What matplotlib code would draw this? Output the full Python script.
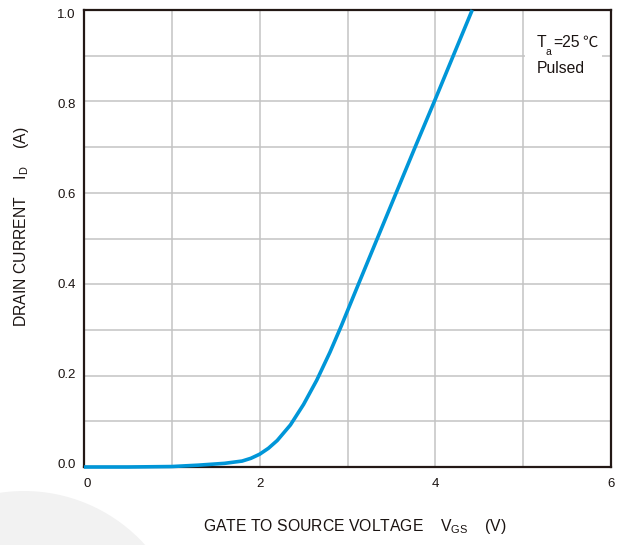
import matplotlib
matplotlib.use("Agg")
import matplotlib.pyplot as plt
from matplotlib.patches import Ellipse, Rectangle
from matplotlib.transforms import ScaledTranslation

# ---- data ----
vgs = [0.0, 0.5, 1.0, 1.3, 1.6, 1.8, 1.9, 2.0, 2.1, 2.2, 2.35, 2.5, 2.65, 2.8,
       2.93, 3.12, 3.35, 3.55, 3.77, 4.0, 4.2, 4.42]
id_a = [0.0, 0.0, 0.001, 0.004, 0.008, 0.013, 0.019, 0.028, 0.041, 0.058, 0.092,
        0.137, 0.19, 0.251, 0.309, 0.398, 0.505, 0.598, 0.700, 0.805, 0.898, 1.0]
x_ticks = [0, 2, 4, 6]
x_ticklabels = ["0", "2", "4", "6"]
y_ticks = [0.0, 0.2, 0.4, 0.6, 0.8, 1.0]
y_ticklabels = ["0.0", "0.2", "0.4", "0.6", "0.8", "1.0"]
x_grid = [1, 2, 3, 4, 5]
y_grid = [0.1, 0.2, 0.3, 0.4, 0.5, 0.6, 0.7, 0.8, 0.9]

plt.rcParams['font.family'] = ['Liberation Sans', 'Noto Sans CJK SC', 'DejaVu Sans']
plt.rcParams['mathtext.fontset'] = 'custom'
plt.rcParams['mathtext.rm'] = 'Liberation Sans'
plt.rcParams['mathtext.it'] = 'Liberation Sans'

TXT = '#1a1311'
W, H = 621, 545
fig = plt.figure(figsize=(W / 100, H / 100), dpi=100)
fig.patch.set_facecolor('white')


def fx(px):
    return px / W


def fy(py):
    return 1 - py / H


# faint decorative arc in the lower-left corner
r = 163
fig.patches.append(Ellipse((fx(24), fy(654)), 2 * r / W, 2 * r / H,
                           transform=fig.transFigure, facecolor='#f2f2f2',
                           edgecolor='none', zorder=0))

ax = fig.add_axes([fx(84), fy(467), (611 - 84) / W, (467 - 10) / H])
ax.set_xlim(0, 6)
ax.set_ylim(0, 1.0)

for gx in x_grid:
    ax.axvline(gx, color='#c3c3c3', lw=1.1, zorder=1)
for gy in y_grid:
    ax.axhline(gy, color='#c3c3c3', lw=1.1, zorder=1)

ax.plot(vgs, id_a, color='#0096d8', lw=2.6, zorder=4, clip_on=False,
        solid_capstyle='butt', solid_joinstyle='round')

ax.set_xticks(x_ticks)
ax.set_xticklabels(x_ticklabels)
ax.set_yticks(y_ticks)
ax.set_yticklabels(y_ticklabels)
ax.tick_params(length=0, labelsize=9.5, colors=TXT)
ax.tick_params(axis='x', pad=8)
ax.tick_params(axis='y', pad=6)

# small label offsets as in the reference
ylabs = ax.get_yticklabels()
n = len(ylabs)
for i, lab in enumerate(ylabs):
    dy_px = 4 - 8 * i / (n - 1)
    lab.set_transform(lab.get_transform() +
                      ScaledTranslation(0, dy_px / 100, fig.dpi_scale_trans))
xl0 = ax.get_xticklabels()[0]
xl0.set_transform(xl0.get_transform() +
                  ScaledTranslation(3 / 100, 0, fig.dpi_scale_trans))

for s in ax.spines.values():
    s.set_linewidth(1.6)
    s.set_color('#231815')
    s.set_zorder(3)

# annotation box
ax.add_patch(Rectangle((5.02, 0.845), 0.88, 0.115, facecolor='white',
                       edgecolor='none', zorder=2))
fig.text(fx(537), fy(47), 'T', fontsize=11.3, color=TXT, va='baseline', ha='left')
fig.text(fx(546), fy(55), 'a', fontsize=7.5, color=TXT, va='baseline', ha='left')
fig.text(fx(553.5), fy(47), '=25', fontsize=11.3, color=TXT, va='baseline', ha='left')
fig.text(fx(582), fy(47), '℃', fontsize=11, color=TXT, va='baseline', ha='left',
         family=['Noto Sans CJK SC', 'DejaVu Sans'], fontweight='light')
fig.text(fx(537), fy(73), 'Pulsed', fontsize=11.3, color=TXT,
         va='baseline', ha='left')

fig.text(fx(355), fy(527),
         r'GATE TO SOURCE VOLTAGE    V$_{\mathregular{GS}}$    (V)',
         fontsize=11.3, color=TXT, ha='center', va='center')
fig.text(fx(22), fy(227),
         r'DRAIN CURRENT    I$_{\mathregular{D}}$    (A)',
         fontsize=11.3, color=TXT, ha='center', va='center',
         rotation=90)

fig.savefig('out.png', dpi=100)
